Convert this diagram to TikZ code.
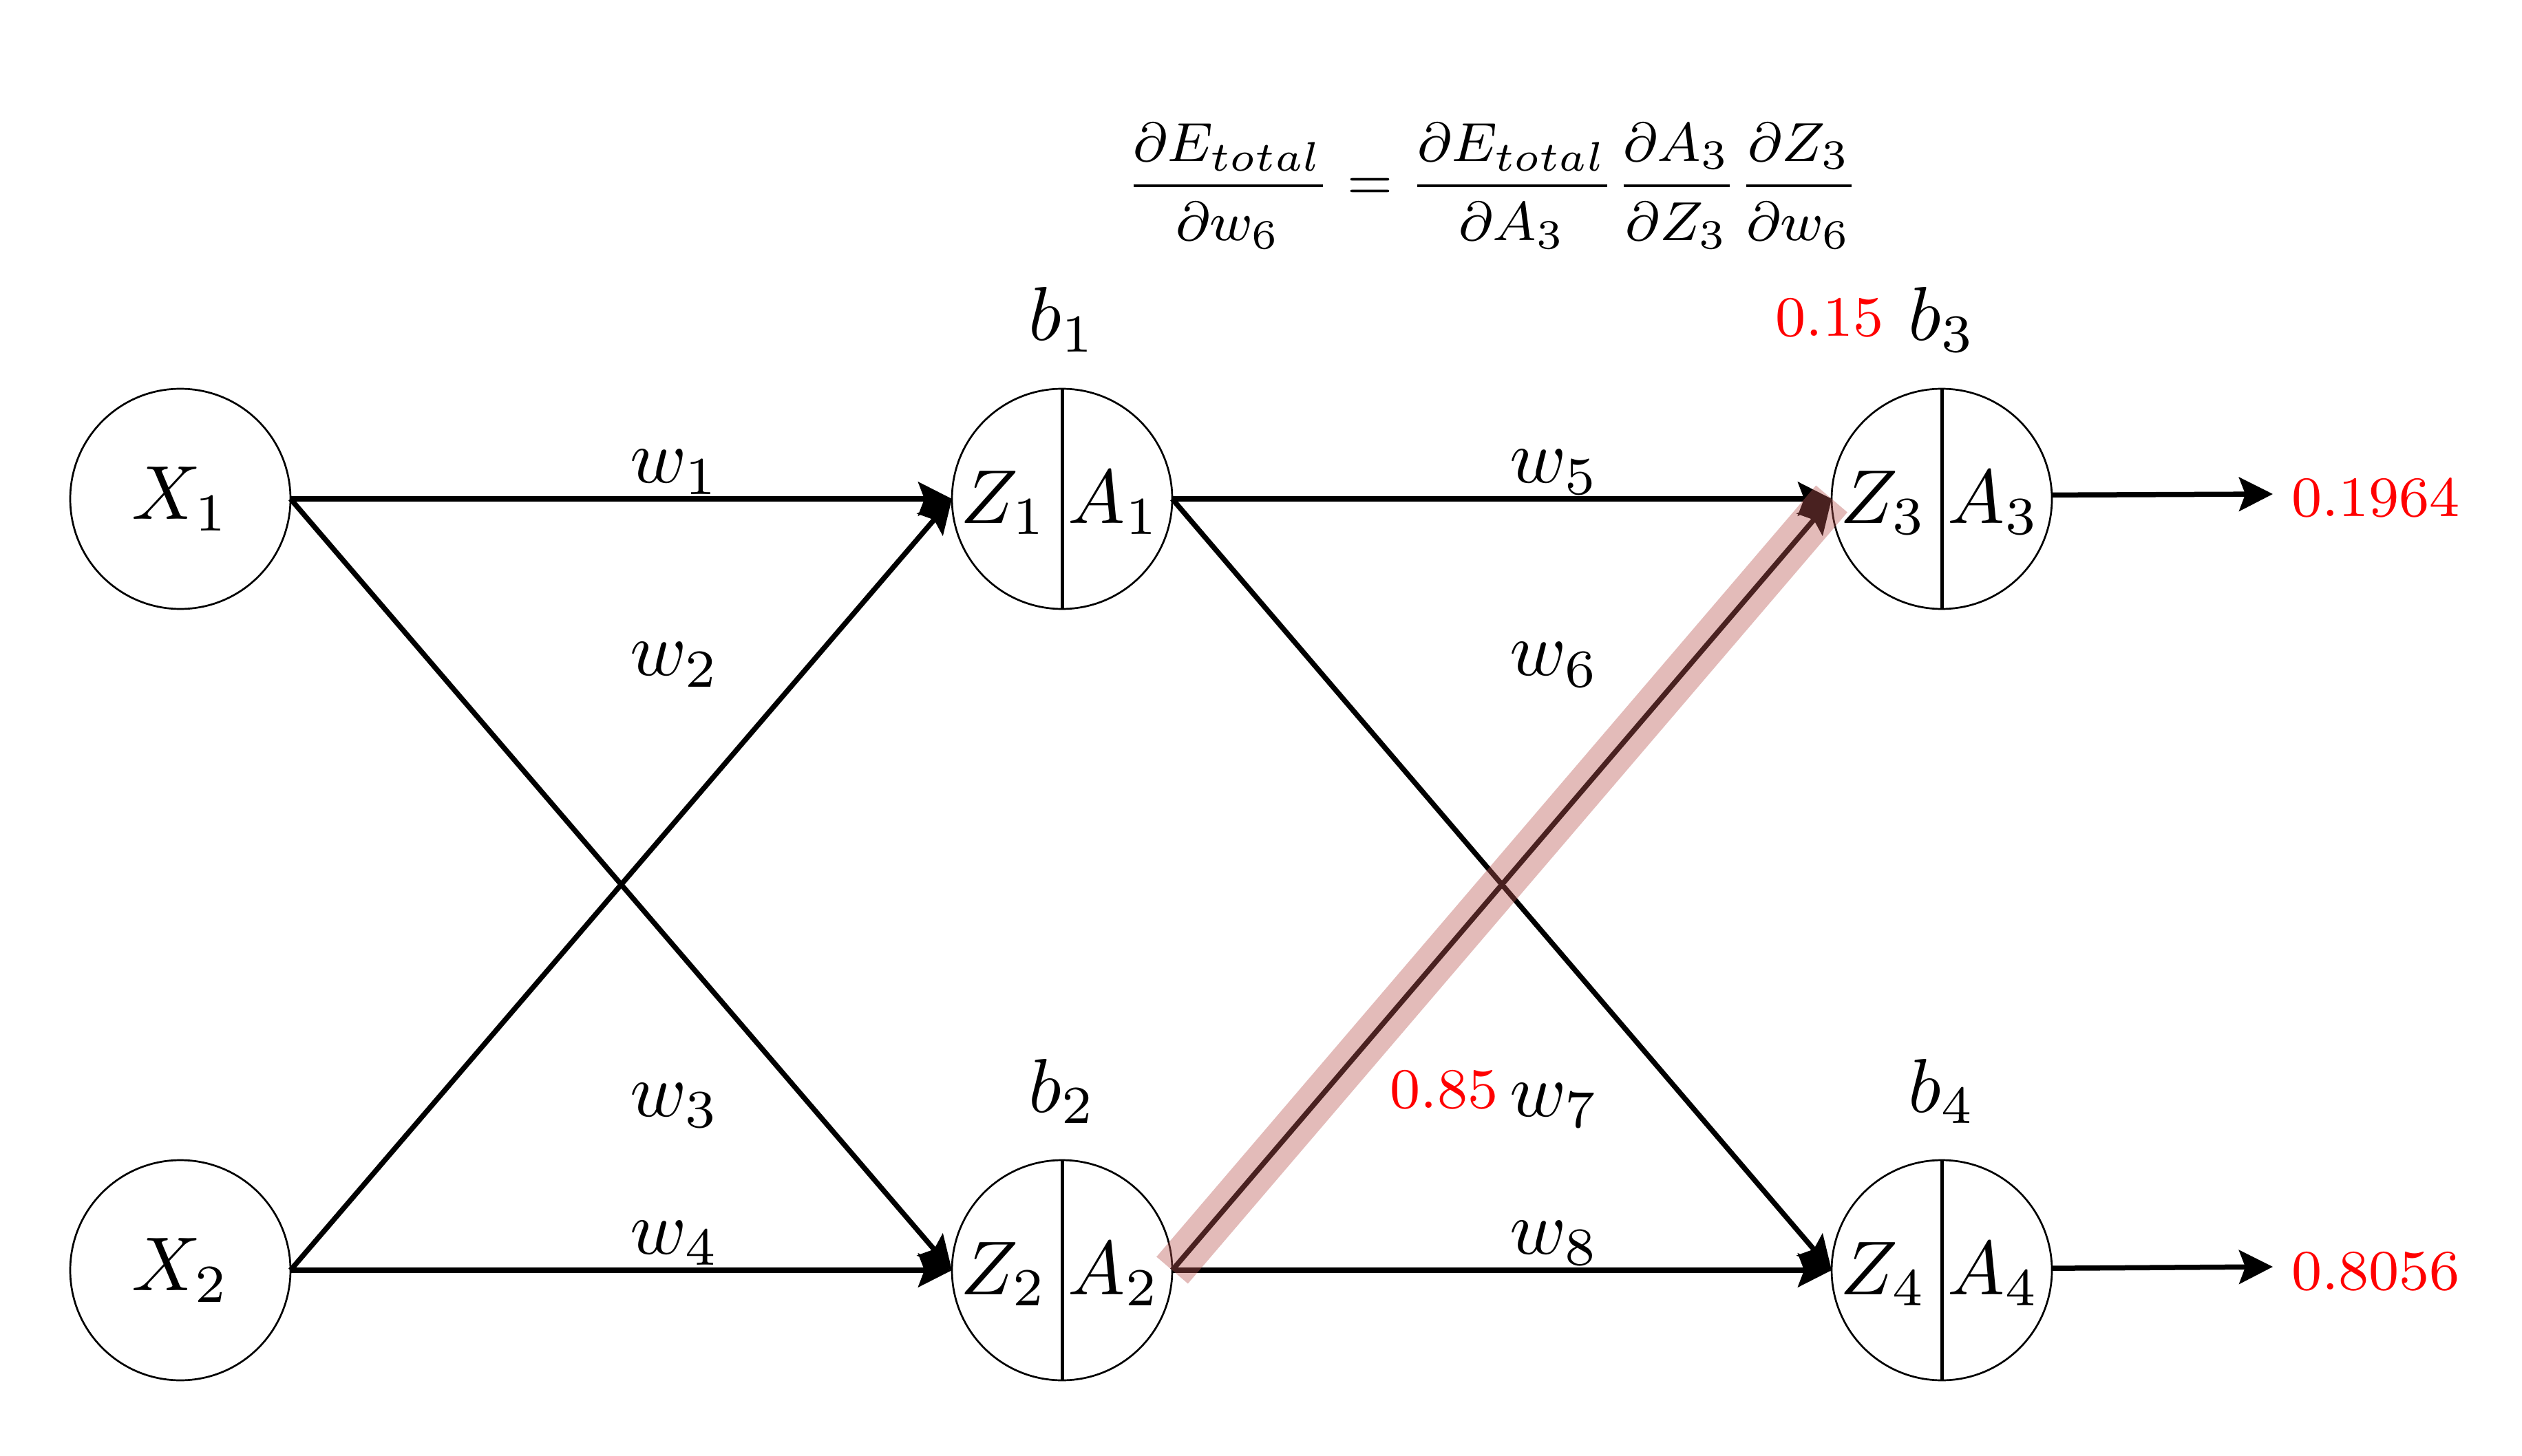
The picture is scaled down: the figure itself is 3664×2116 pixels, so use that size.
\RequirePackage{fix-cm}
\documentclass[tikz,border=0pt]{standalone}
\usetikzlibrary{arrows.meta}
\definecolor{hl}{RGB}{184,84,80}
\begin{document}
\begin{tikzpicture}[x=0.1pt,y=-0.1pt,
  neuron/.style={circle, draw, line width=0.27pt, minimum size=32pt, inner sep=0pt, outer sep=0pt},
  conn/.style={line width=0.75pt, -{Stealth[length=4.9pt,width=4.9pt,inset=0.9pt]}},
  divider/.style={line width=0.5pt},
  mainlbl/.style={font=\fontsize{11.1}{13}\selectfont, inner sep=0pt, anchor=base},
  redlbl/.style={font=\fontsize{8.3}{10}\selectfont, text=red, inner sep=0pt, anchor=base},
  hlband/.style={line width=6pt, draw=hl, draw opacity=0.4}]
\useasboundingbox (0,0) rectangle (3664,2116);

% input neurons
\node[neuron, font=\fontsize{11.1}{13}\selectfont] (X1) at (262,725) {$X_1$};
\node[neuron, font=\fontsize{11.1}{13}\selectfont] (X2) at (262,1846) {$X_2$};

% split neurons
\node[neuron] (N1) at (1543,725) {};
\node[neuron] (N2) at (1543,1846) {};
\node[neuron] (N3) at (2821,725) {};
\node[neuron] (N4) at (2821,1846) {};
\foreach \n in {N1,N2,N3,N4} \draw[divider] (\n.north) -- (\n.south);

\node[mainlbl] (Z1) at (1458,760) {$Z_1$};
\node[mainlbl] (A1) at (1618,760) {$A_1$};
\node[mainlbl] (Z2) at (1458,1881) {$Z_2$};
\node[mainlbl] (A2) at (1618,1881) {$A_2$};
\node[mainlbl] (Z3) at (2736,760) {$Z_3$};
\node[mainlbl] (A3) at (2896,760) {$A_3$};
\node[mainlbl] (Z4) at (2736,1881) {$Z_4$};
\node[mainlbl] (A4) at (2896,1881) {$A_4$};

% biases
\node[mainlbl] (b1) at (1543,495) {$b_1$};
\node[mainlbl] (b2) at (1543,1616) {$b_2$};
\node[mainlbl] (b3) at (2821,495) {$b_3$};
\node[mainlbl] (b4) at (2821,1616) {$b_4$};

% weights
\node[mainlbl] (w1) at (980,702) {$w_1$};
\node[mainlbl] (w2) at (980,982) {$w_2$};
\node[mainlbl] (w3) at (980,1622) {$w_3$};
\node[mainlbl] (w4) at (980,1822) {$w_4$};
\node[mainlbl] (w5) at (2258,702) {$w_5$};
\node[mainlbl] (w6) at (2258,982) {$w_6$};
\node[mainlbl] (w7) at (2258,1622) {$w_7$};
\node[mainlbl] (w8) at (2258,1822) {$w_8$};

% red values
\node[redlbl] (v15) at (2658,489) {0.15};
\node[redlbl] (v85) at (2098,1610) {0.85};
\node[redlbl, anchor=base west] (o1964) at (3327,751) {0.1964};
\node[redlbl, anchor=base west] (o8056) at (3327,1874) {0.8056};

% formula
\node[font=\fontsize{8.0}{10}\selectfont, inner sep=0pt, anchor=base] (eq) at (2168,290)
  {$\displaystyle\frac{\partial E_{total}}{\partial w_6} = \frac{\partial E_{total}}{\partial A_3}\frac{\partial A_3}{\partial Z_3}\frac{\partial Z_3}{\partial w_6}$};

% connectors
\draw[conn] (X1.east) -- (N1.west);
\draw[conn] (X1.east) -- (N2.west);
\draw[conn] (X2.east) -- (N1.west);
\draw[conn] (X2.east) -- (N2.west);
\draw[conn] (N1.east) -- (N3.west);
\draw[conn] (N1.east) -- (N4.west);
\draw[conn] (N2.east) -- (N3.west);
\draw[conn] (N2.east) -- (N4.west);

\coordinate (t3) at (3302,718);
\coordinate (t4) at (3302,1841);
\draw[conn] (N3.2.5) -- (t3);
\draw[conn] (N4.1.5) -- (t4);

% highlight band
\draw[hlband] (N2.east) -- (N3.west);
\end{tikzpicture}
\end{document}
